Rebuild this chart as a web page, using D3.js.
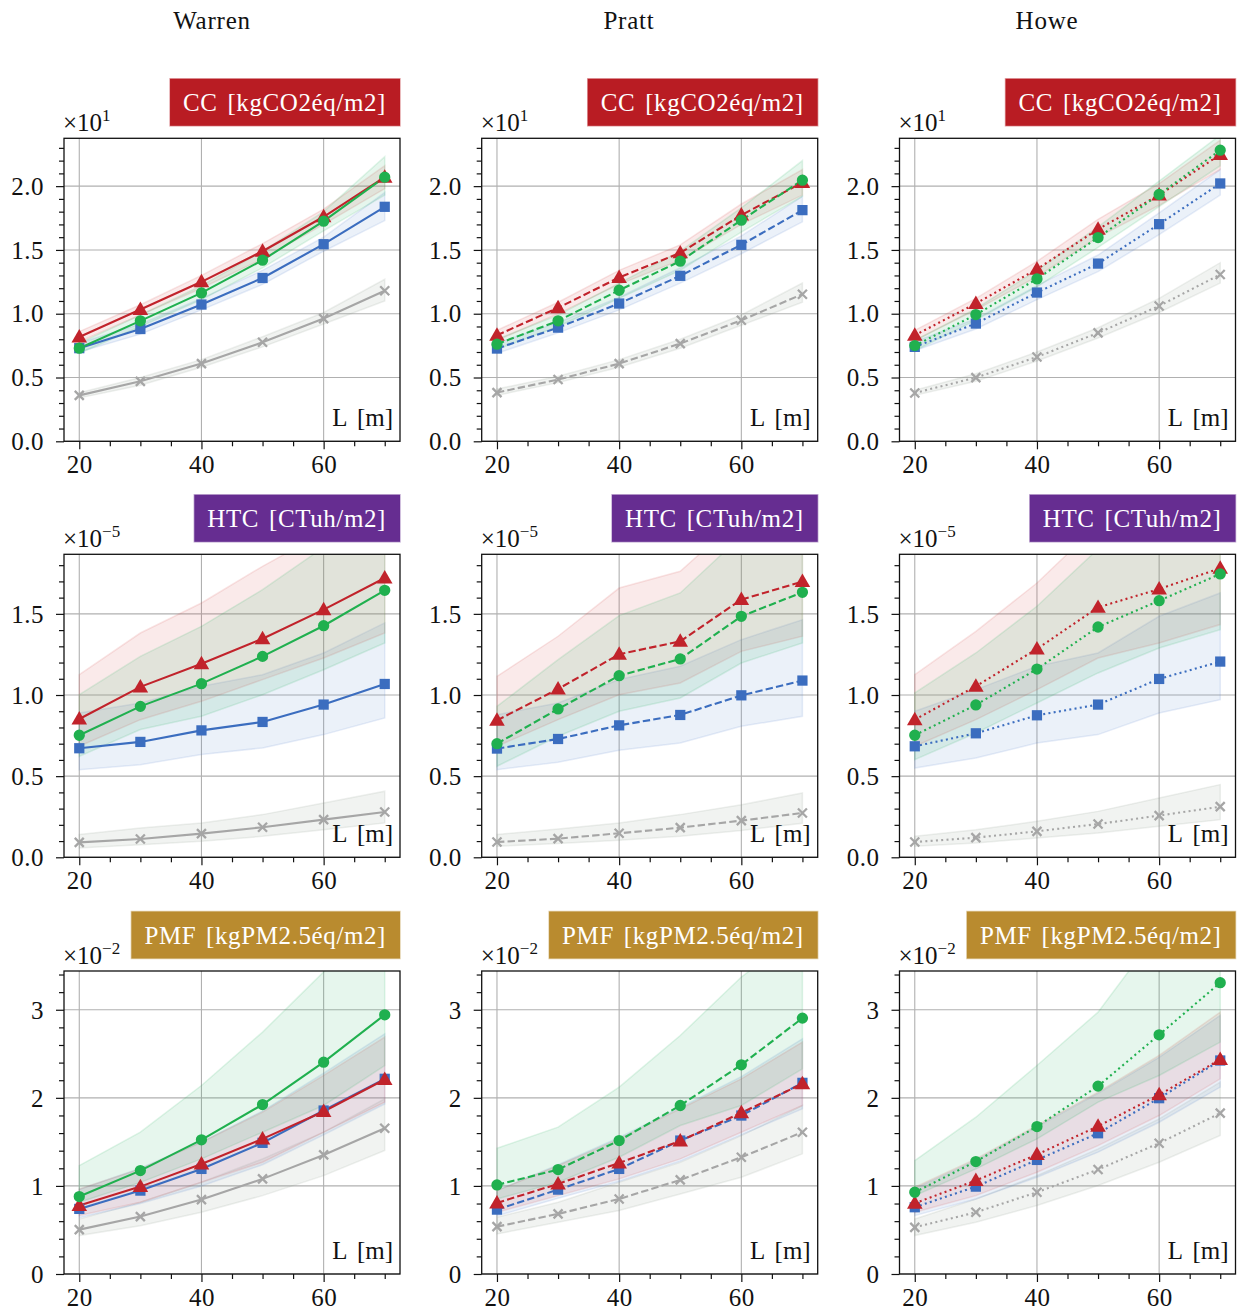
<!DOCTYPE html>
<html><head><meta charset="utf-8">
<script src="https://cdn.jsdelivr.net/npm/d3@7"></script>
<style>body{margin:0;background:#fff}svg text{font-family:"Liberation Serif",serif}</style>
</head><body><svg id="chart" width="1246" height="1313"></svg>
<script>
// ---------------- data (y values in displayed units, i.e. divided by the ×10^n factor) -------------
const LENGTHS = [20, 30, 40, 50, 60, 70];
const COLUMN_TITLES = ["Warren", "Pratt", "Howe"];
const ROW_TITLES = ["CC [kgCO2éq/m2]", "HTC [CTuh/m2]", "PMF [kgPM2.5éq/m2]"];
const ROW_EXPONENTS = ["1", "−5", "−2"];
const ROW_Y_MAX = [2.375, 1.867, 3.44];
const ROW_Y_MAJOR = [[0, 0.5, 1.0, 1.5, 2.0], [0, 0.5, 1.0, 1.5], [0, 1, 2, 3]];
const ROW_Y_MINOR_STEP = [0.1, 0.1, 0.2];
const ROW_Y_DECIMALS = [1, 1, 0];
const X_MAJOR = [20, 40, 60];
const X_MINOR = [25, 30, 35, 45, 50, 55, 65, 70];
const SERIES = ["triangle", "circle", "square", "cross"];   // red, green, blue, gray

// order of each block: [red ▲, green ●, blue ■, gray ×]
const CC_WARREN_MEAN = [[0.818,1.033,1.25,1.49,1.76,2.07],[0.73,0.944,1.163,1.42,1.725,2.07],[0.73,0.88,1.072,1.28,1.545,1.838],[0.36,0.47,0.609,0.776,0.962,1.18]];
const CC_WARREN_LOW  = [[0.78,0.99,1.20,1.43,1.70,1.98],[0.69,0.90,1.11,1.36,1.65,1.93],[0.70,0.84,1.03,1.23,1.49,1.73],[0.34,0.44,0.58,0.74,0.92,1.10]];
const CC_WARREN_HIGH = [[0.86,1.07,1.30,1.55,1.82,2.16],[0.77,0.99,1.22,1.49,1.80,2.23],[0.77,0.92,1.12,1.34,1.60,1.95],[0.38,0.50,0.64,0.82,1.01,1.27]];

const CC_PRATT_MEAN = [[0.831,1.046,1.284,1.477,1.773,2.029],[0.761,0.944,1.184,1.412,1.733,2.047],[0.727,0.891,1.08,1.297,1.54,1.812],[0.382,0.484,0.609,0.766,0.949,1.153]];
const CC_PRATT_LOW  = [[0.79,1.00,1.23,1.42,1.70,1.93],[0.72,0.90,1.12,1.34,1.64,1.92],[0.69,0.85,1.03,1.24,1.47,1.72],[0.36,0.46,0.58,0.73,0.91,1.09]];
const CC_PRATT_HIGH = [[0.87,1.09,1.34,1.54,1.86,2.13],[0.80,0.99,1.24,1.49,1.83,2.20],[0.77,0.93,1.13,1.36,1.61,1.92],[0.41,0.51,0.64,0.80,0.99,1.24]];

const CC_HOWE_MEAN = [[0.831,1.08,1.349,1.663,1.93,2.248],[0.75,0.993,1.273,1.597,1.935,2.282],[0.74,0.923,1.166,1.393,1.702,2.021],[0.379,0.499,0.661,0.85,1.061,1.307]];
const CC_HOWE_LOW  = [[0.79,1.03,1.29,1.60,1.85,2.13],[0.71,0.95,1.21,1.52,1.84,2.16],[0.71,0.88,1.11,1.33,1.62,1.93],[0.36,0.47,0.63,0.81,1.01,1.24]];
const CC_HOWE_HIGH = [[0.87,1.12,1.41,1.74,2.02,2.36],[0.79,1.04,1.34,1.68,2.04,2.40],[0.78,0.96,1.22,1.46,1.79,2.13],[0.40,0.53,0.70,0.89,1.12,1.40]];

const HTC_WARREN_MEAN = [[0.852,1.05,1.193,1.347,1.526,1.721],[0.752,0.93,1.07,1.238,1.427,1.645],[0.672,0.711,0.782,0.834,0.941,1.068],[0.092,0.113,0.146,0.185,0.232,0.279]];
const HTC_WARREN_LOW  = [[0.684,0.848,0.961,1.095,1.228,1.382],[0.622,0.787,0.869,1.002,1.156,1.321],[0.54,0.571,0.633,0.674,0.756,0.859],[0.058,0.078,0.099,0.129,0.17,0.212]];
const HTC_WARREN_HIGH = [[1.125,1.382,1.567,1.793,2.0,2.2],[1.002,1.238,1.423,1.649,1.91,2.15],[0.889,0.951,1.054,1.125,1.259,1.444],[0.14,0.181,0.212,0.263,0.335,0.407]];

const HTC_PRATT_MEAN = [[0.844,1.037,1.251,1.331,1.588,1.699],[0.70,0.914,1.119,1.222,1.485,1.633],[0.67,0.729,0.813,0.877,0.998,1.089],[0.094,0.115,0.148,0.183,0.226,0.273]];
const HTC_PRATT_LOW  = [[0.684,0.848,1.002,1.074,1.269,1.362],[0.561,0.746,0.9,0.982,1.197,1.321],[0.54,0.585,0.659,0.704,0.807,0.869],[0.068,0.085,0.105,0.13,0.165,0.21]];
const HTC_PRATT_HIGH = [[1.115,1.362,1.659,1.762,2.1,2.2],[0.93,1.218,1.489,1.629,1.98,2.2],[0.879,0.951,1.095,1.177,1.341,1.464],[0.14,0.175,0.212,0.263,0.324,0.396]];

const HTC_HOWE_MEAN = [[0.848,1.054,1.284,1.54,1.653,1.781],[0.752,0.939,1.16,1.419,1.581,1.746],[0.684,0.764,0.875,0.941,1.099,1.206],[0.094,0.121,0.16,0.205,0.257,0.312]];
const HTC_HOWE_LOW  = [[0.684,0.848,1.033,1.228,1.321,1.434],[0.602,0.766,0.951,1.136,1.29,1.403],[0.55,0.612,0.704,0.756,0.889,0.971],[0.068,0.088,0.119,0.15,0.191,0.232]];
const HTC_HOWE_HIGH = [[1.125,1.392,1.69,2.05,2.3,2.5],[1.013,1.259,1.547,1.9,2.15,2.35],[0.9,1.033,1.177,1.259,1.485,1.629],[0.13,0.17,0.222,0.283,0.366,0.448]];

const PMF_WARREN_MEAN = [[0.777,0.992,1.25,1.534,1.845,2.208],[0.879,1.174,1.523,1.924,2.405,2.943],[0.739,0.947,1.193,1.489,1.856,2.216],[0.504,0.652,0.845,1.08,1.352,1.655]];
const PMF_WARREN_LOW  = [[0.663,0.814,1.042,1.269,1.61,1.951],[0.814,1.04,1.307,1.61,1.913,2.367],[0.64,0.80,1.0,1.24,1.58,1.93],[0.436,0.549,0.701,0.89,1.117,1.402]];
const PMF_WARREN_HIGH = [[0.966,1.193,1.496,1.837,2.254,2.689],[1.231,1.61,2.14,2.746,3.43,4.0],[0.96,1.2,1.5,1.85,2.28,2.727],[0.625,0.814,1.042,1.307,1.61,1.989]];

const PMF_PRATT_MEAN = [[0.807,1.023,1.261,1.511,1.83,2.159],[1.011,1.186,1.515,1.913,2.375,2.905],[0.731,0.958,1.193,1.515,1.799,2.17],[0.538,0.682,0.852,1.068,1.326,1.61]];
const PMF_PRATT_LOW  = [[0.701,0.89,1.08,1.307,1.61,1.913],[0.852,1.042,1.326,1.686,1.913,2.33],[0.66,0.86,1.05,1.28,1.58,1.875],[0.455,0.587,0.72,0.909,1.098,1.364]];
const PMF_PRATT_HIGH = [[0.947,1.231,1.534,1.875,2.216,2.633],[1.428,1.667,2.121,2.708,3.371,3.9],[0.95,1.24,1.55,1.89,2.24,2.67],[0.644,0.814,1.042,1.269,1.572,1.913]];

const PMF_HOWE_MEAN = [[0.803,1.061,1.356,1.678,2.034,2.436],[0.928,1.277,1.674,2.133,2.716,3.307],[0.758,0.992,1.295,1.598,1.996,2.424],[0.53,0.701,0.928,1.186,1.485,1.826]];
const PMF_HOWE_LOW  = [[0.701,0.89,1.155,1.458,1.799,2.216],[0.89,1.193,1.534,1.951,2.254,2.633],[0.663,0.852,1.098,1.383,1.723,2.121],[0.436,0.587,0.777,1.004,1.269,1.572]];
const PMF_HOWE_HIGH = [[0.985,1.307,1.686,2.064,2.481,2.973],[1.288,1.78,2.367,2.973,3.9,4.6],[0.97,1.29,1.67,2.05,2.46,2.936],[0.625,0.852,1.117,1.42,1.761,2.178]];

// table built from the arrays above: PANELS[row][col]
const PANELS = [
  [[CC_WARREN_MEAN, CC_WARREN_LOW, CC_WARREN_HIGH], [CC_PRATT_MEAN, CC_PRATT_LOW, CC_PRATT_HIGH], [CC_HOWE_MEAN, CC_HOWE_LOW, CC_HOWE_HIGH]],
  [[HTC_WARREN_MEAN, HTC_WARREN_LOW, HTC_WARREN_HIGH], [HTC_PRATT_MEAN, HTC_PRATT_LOW, HTC_PRATT_HIGH], [HTC_HOWE_MEAN, HTC_HOWE_LOW, HTC_HOWE_HIGH]],
  [[PMF_WARREN_MEAN, PMF_WARREN_LOW, PMF_WARREN_HIGH], [PMF_PRATT_MEAN, PMF_PRATT_LOW, PMF_PRATT_HIGH], [PMF_HOWE_MEAN, PMF_HOWE_LOW, PMF_HOWE_HIGH]]
];

// ---------------- styling ----------------
const SERIES_COLORS = ["#c1232b", "#20b04f", "#3b6dbf", "#a6a6a6"];
const BAND_COLORS = ["#d9534f", "#2fb768", "#5b88d0", "#8a9a8a"];
const ROW_BOX_COLORS = ["#b91c23", "#662d91", "#b98b2f"];
const COL_DASH = [null, "7.4,3.2", "2,3.3"];
const DRAW_ORDER = [3, 2, 0, 1];

const COL_LEFT = [64, 481.7, 899.5];
const ROW_TOP = [138.3, 554.3, 971];
const AX_W = 336, AX_H = 303;
const FONT = 25;

const svg = d3.select("#chart");
const defs = svg.append("defs");

// column titles
const COL_TITLE_X = [212, 629, 1047];
COLUMN_TITLES.forEach((t, c) => {
  svg.append("text").attr("x", COL_TITLE_X[c]).attr("y", 29)
    .attr("text-anchor", "middle").attr("font-size", 25).attr("letter-spacing", 0.8)
    .attr("fill", "#111").text(t);
});

function markerPath(kind) {
  if (kind === "triangle") return d3.symbol(d3.symbolTriangle, 105)();
  if (kind === "circle") return d3.symbol(d3.symbolCircle, 100)();
  if (kind === "square") return d3.symbol(d3.symbolSquare, 105)();
  return "M-4.5,-4.5L4.5,4.5M-4.5,4.5L4.5,-4.5";
}

for (let r = 0; r < 3; r++) {
  for (let c = 0; c < 3; c++) {
    const [mean, low, high] = PANELS[r][c];
    const x0 = COL_LEFT[c], y0 = ROW_TOP[r];
    const g = svg.append("g").attr("transform", `translate(${x0},${y0})`);
    const x = d3.scaleLinear().domain([17.5, 72.5]).range([0, AX_W]);
    const y = d3.scaleLinear().domain([0, ROW_Y_MAX[r]]).range([AX_H, 0]);
    const clipId = `clip-${r}-${c}`;
    defs.append("clipPath").attr("id", clipId).append("rect").attr("width", AX_W).attr("height", AX_H);

    // grid
    g.append("g").selectAll("line").data(X_MAJOR).join("line")
      .attr("x1", d => x(d)).attr("x2", d => x(d)).attr("y1", 0).attr("y2", AX_H)
      .attr("stroke", "#b0b0b0").attr("stroke-width", 1.1);
    g.append("g").selectAll("line").data(ROW_Y_MAJOR[r]).join("line")
      .attr("y1", d => y(d)).attr("y2", d => y(d)).attr("x1", 0).attr("x2", AX_W)
      .attr("stroke", "#b0b0b0").attr("stroke-width", 1.1);

    const plot = g.append("g").attr("clip-path", `url(#${clipId})`);
    // bands
    DRAW_ORDER.forEach(s => {
      const area = d3.area().x((d, i) => x(LENGTHS[i])).y0((d, i) => y(low[s][i])).y1((d, i) => y(high[s][i]));
      plot.append("path").datum(LENGTHS).attr("d", area)
        .attr("fill", BAND_COLORS[s]).attr("fill-opacity", 0.12)
        .attr("stroke", BAND_COLORS[s]).attr("stroke-opacity", 0.15).attr("stroke-width", 1.5);
    });
    // lines and markers
    DRAW_ORDER.forEach(s => {
      const line = d3.line().x((d, i) => x(LENGTHS[i])).y(d => y(d));
      plot.append("path").datum(mean[s]).attr("d", line)
        .attr("fill", "none").attr("stroke", SERIES_COLORS[s]).attr("stroke-width", 2.1)
        .attr("stroke-dasharray", COL_DASH[c]);
      const mk = g.append("g");
      mean[s].forEach((v, i) => {
        const p = mk.append("path").attr("d", markerPath(SERIES[s]))
          .attr("transform", `translate(${x(LENGTHS[i])},${y(v) + (SERIES[s] === "triangle" ? 1 : 0)})`);
        if (SERIES[s] === "cross") p.attr("fill", "none").attr("stroke", SERIES_COLORS[s]).attr("stroke-width", 2.3);
        else p.attr("fill", SERIES_COLORS[s]);
      });
    });

    // axes
    const xAxis = d3.axisBottom(x).tickValues(X_MAJOR).tickSize(8).tickPadding(6).tickFormat(d3.format("d"));
    const xg = g.append("g").attr("transform", `translate(0,${AX_H})`).call(xAxis);
    const xm = d3.axisBottom(x).tickValues(X_MINOR).tickSize(5).tickFormat("");
    const xmg = g.append("g").attr("transform", `translate(0,${AX_H})`).call(xm);
    const yAxis = d3.axisLeft(y).tickValues(ROW_Y_MAJOR[r]).tickSize(8).tickPadding(12)
      .tickFormat(d3.format(`.${ROW_Y_DECIMALS[r]}f`));
    const yg = g.append("g").call(yAxis);
    const minor = d3.range(0, ROW_Y_MAX[r] + 1e-9, ROW_Y_MINOR_STEP[r])
      .filter(v => !ROW_Y_MAJOR[r].some(m => Math.abs(m - v) < 1e-6));
    const ymg = g.append("g").call(d3.axisLeft(y).tickValues(minor).tickSize(5).tickFormat(""));
    [xg, xmg, yg, ymg].forEach(a => {
      a.select(".domain").remove();
      a.selectAll(".tick line").attr("stroke", "#111").attr("stroke-width", 1.2);
      a.selectAll(".tick text").attr("font-size", FONT).attr("fill", "#111")
        .attr("font-family", "Liberation Serif, serif").attr("letter-spacing", 0.5);
    });
    yg.selectAll(".tick text").attr("dy", "0.33em");
    xg.selectAll(".tick text").attr("dy", "0.72em");

    // frame
    g.append("rect").attr("width", AX_W).attr("height", AX_H)
      .attr("fill", "none").attr("stroke", "#111").attr("stroke-width", 1.3);

    // L [m]
    g.append("text").attr("x", AX_W - 7).attr("y", AX_H - 15).attr("text-anchor", "end")
      .attr("font-size", FONT).attr("fill", "#111").attr("word-spacing", 4).text("L [m]");

    // offset label ×10^n
    const ot = g.append("text").attr("x", -1).attr("y", -7).attr("font-size", FONT).attr("fill", "#111");
    ot.append("tspan").text("×10");
    ot.append("tspan").attr("dy", -10).attr("font-size", 17).text(ROW_EXPONENTS[r]);

    // title box
    const box = g.append("g");
    const tt = box.append("text").attr("font-size", FONT).attr("fill", "#fff").attr("letter-spacing", 0.6)
      .attr("word-spacing", 3)
      .attr("text-anchor", "end").attr("x", AX_W - 14).attr("y", -59 + 8).text(ROW_TITLES[r]);
    const bb = tt.node().getBBox();
    box.insert("rect", "text").attr("x", bb.x - 13).attr("y", -59.5).attr("width", bb.width + 27).attr("height", 47)
      .attr("fill", ROW_BOX_COLORS[r]).attr("stroke", ROW_BOX_COLORS[r]).attr("stroke-opacity", 0.4)
      .attr("stroke-width", 1.5);
    tt.attr("y", -59.5 + 23.5).attr("dy", "0.35em");
  }
}
</script></body></html>
